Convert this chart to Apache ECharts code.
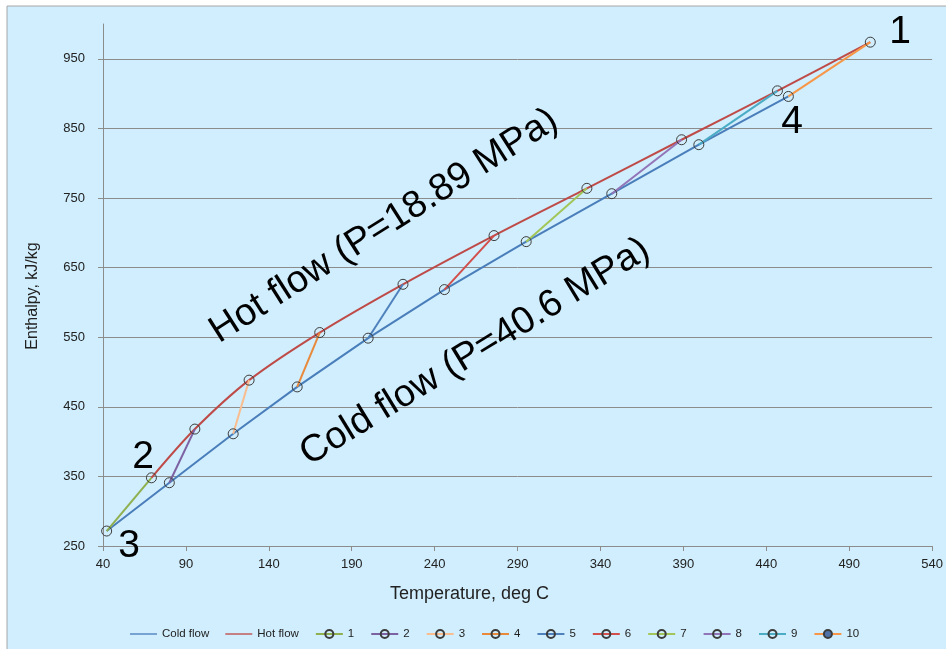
<!DOCTYPE html>
<html><head><meta charset="utf-8">
<script src="https://cdn.jsdelivr.net/npm/echarts@6/dist/echarts.min.js"></script>
<style>html,body{margin:0;padding:0;background:#fff}#c{width:946px;height:649px}</style>
</head><body><div id="c"></div>
<script>
// Data
var xTicks = [40, 90, 140, 190, 240, 290, 340, 390, 440, 490, 540];
var yTicks = [250, 350, 450, 550, 650, 750, 850, 950];
var coldT = [42.2, 80.0, 118.5, 157.1, 199.9, 245.9, 295.2, 346.8, 399.3, 453.3];
var coldH = [271.5, 340.9, 411.2, 478.6, 548.6, 618.4, 687.3, 756.2, 826.6, 895.9];
var hotT = [69.2, 95.4, 128.1, 170.7, 220.9, 275.8, 331.8, 388.9, 446.7, 502.7];
var hotH = [348.0, 418.0, 488.3, 556.7, 626.0, 696.0, 763.9, 833.7, 904.0, 973.9];
var segNames = ['1', '2', '3', '4', '5', '6', '7', '8', '9', '10'];
var segColors = ['#8fb04f', '#7d62a3', '#f9bd8f', '#e8893c', '#4f81bd', '#d24f4c', '#a3c659', '#9274b8', '#4bacc6', '#f79646'];

var FONT = "'Liberation Sans',sans-serif";
var series = [
  {name: 'Cold flow', type: 'line', symbol: 'none', z: 3,
   lineStyle: {color: '#4a7ebb', width: 2}, itemStyle: {color: '#4a7ebb'},
   data: coldT.map(function (t, i) { return [t, coldH[i]]; })},
  {name: 'Hot flow', type: 'line', symbol: 'none', smooth: 0.3, z: 3,
   lineStyle: {color: '#be4b48', width: 2}, itemStyle: {color: '#be4b48'},
   data: hotT.map(function (t, i) { return [t, hotH[i]]; })}
];
segNames.forEach(function (n, i) {
  series.push({
    name: n, type: 'line', symbol: 'circle', symbolSize: 10, z: 4,
    lineStyle: {color: segColors[i], width: 2},
    itemStyle: {color: 'rgba(0,0,0,0)', borderColor: '#3c3c3c', borderWidth: 1},
    data: [[hotT[i], hotH[i]], [coldT[i], coldH[i]]]
  });
});

var lineIcon = 'path://M0 0H40V2H0Z';
var legendData = [
  {name: 'Cold flow', icon: lineIcon},
  {name: 'Hot flow', icon: lineIcon}
].concat(segNames.map(function (n) {
  if (n === '10') return {name: n, itemStyle: {color: '#4f72a8', borderColor: '#3c3c3c'}};
  return n;
}));

var splitColors = yTicks.map(function () { return '#8c8c8c'; }).concat(['rgba(0,0,0,0)']);

var chart = echarts.init(document.getElementById('c'), null, {renderer: 'canvas'});
chart.setOption({
  animation: false,
  backgroundColor: '#ffffff',
  graphic: [
    {type: 'rect', z: -100, silent: true, shape: {x: 7, y: 6, width: 960, height: 660},
     style: {fill: '#d0eefd', stroke: '#a6a6a6', lineWidth: 1}},
    {type: 'text', z: 100, x: 384, y: 226, rotation: 32.5 * Math.PI / 180,
     style: {text: 'Hot flow (P=18.89 MPa)', font: "38px 'Liberation Sans',sans-serif", fill: '#000', align: 'center', verticalAlign: 'middle'}},
    {type: 'text', z: 100, x: 475, y: 352, rotation: 31.5 * Math.PI / 180,
     style: {text: 'Cold flow (P=40.6 MPa)', font: "38px 'Liberation Sans',sans-serif", fill: '#000', align: 'center', verticalAlign: 'middle'}},
    {type: 'text', z: 100, x: 900, y: 32, style: {text: '1', font: "39px 'Liberation Sans',sans-serif", fill: '#000', align: 'center', verticalAlign: 'middle'}},
    {type: 'text', z: 100, x: 143, y: 457, style: {text: '2', font: "39px 'Liberation Sans',sans-serif", fill: '#000', align: 'center', verticalAlign: 'middle'}},
    {type: 'text', z: 100, x: 129, y: 546, style: {text: '3', font: "39px 'Liberation Sans',sans-serif", fill: '#000', align: 'center', verticalAlign: 'middle'}},
    {type: 'text', z: 100, x: 792, y: 122, style: {text: '4', font: "39px 'Liberation Sans',sans-serif", fill: '#000', align: 'center', verticalAlign: 'middle'}}
  ],
  grid: {left: 103, right: 9, top: 24, bottom: 103, containLabel: false},
  legend: {
    left: 125, top: 623, itemWidth: 27, itemHeight: 10, itemGap: 16,
    textStyle: {fontFamily: FONT, fontSize: 11.5, color: '#222'},
    data: legendData
  },
  xAxis: {
    type: 'value', min: 40, max: 540, interval: 50,
    name: 'Temperature, deg C', nameLocation: 'middle', nameGap: 39,
    nameTextStyle: {fontFamily: FONT, fontSize: 18, color: '#222', padding: [0, 96, 0, 0]},
    axisLine: {show: true, lineStyle: {color: '#8c8c8c'}},
    axisTick: {show: true, length: 5, lineStyle: {color: '#8c8c8c'}},
    axisLabel: {fontFamily: FONT, fontSize: 13, color: '#222', margin: 12},
    splitLine: {show: false}
  },
  yAxis: {
    type: 'value', min: 250, max: 1000, interval: 100,
    name: 'Enthalpy, kJ/kg', nameLocation: 'middle', nameGap: 62,
    nameTextStyle: {fontFamily: FONT, fontSize: 16, color: '#222', padding: [0, 22, 0, 0]},
    axisLine: {show: true, lineStyle: {color: '#8c8c8c'}},
    axisTick: {show: true, length: 5, lineStyle: {color: '#8c8c8c'}, customValues: yTicks},
    axisLabel: {fontFamily: FONT, fontSize: 13, color: '#222', margin: 18, customValues: yTicks},
    splitLine: {show: true, lineStyle: {color: splitColors, width: 1}}
  },
  series: series
});
</script></body></html>
